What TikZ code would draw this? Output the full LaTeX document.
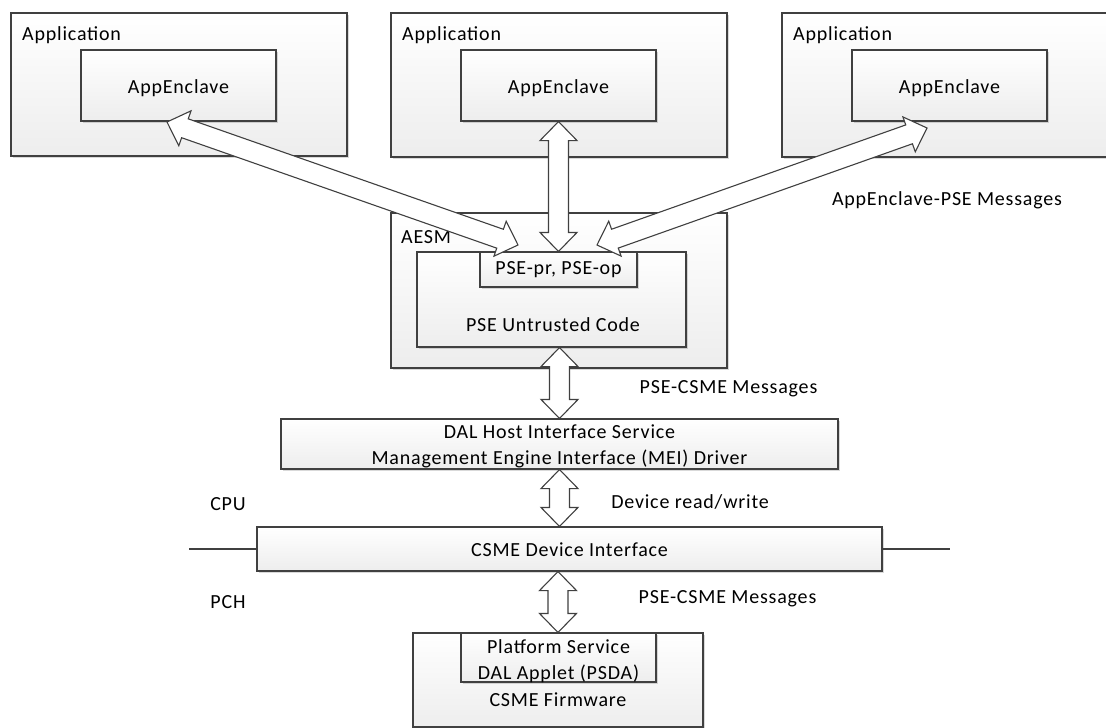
\documentclass[tikz,border=0pt]{standalone}
\usepackage{fontspec}
\setmainfont[LetterSpace=4]{Carlito}
\usetikzlibrary{calc,shadows}
\definecolor{edge}{HTML}{404040}
\newcommand{\dblarrow}[2]{%
  \draw[blockarrow] (#1)
    -- ($(#1)!19pt!(#2)!18.5pt!90:(#2)$)
    -- ($(#1)!19pt!(#2)!10pt!90:(#2)$)
    -- ($(#2)!19pt!(#1)!10pt!-90:(#1)$)
    -- ($(#2)!19pt!(#1)!18.5pt!-90:(#1)$)
    -- (#2)
    -- ($(#2)!19pt!(#1)!18.5pt!90:(#1)$)
    -- ($(#2)!19pt!(#1)!10pt!90:(#1)$)
    -- ($(#1)!19pt!(#2)!10pt!-90:(#2)$)
    -- ($(#1)!19pt!(#2)!18.5pt!-90:(#2)$)
    -- cycle;}
\tikzset{
  box/.style={draw=edge, line width=1.1pt, rectangle, inner sep=0pt,
    top color=white, bottom color=black!7,
    drop shadow={shadow xshift=1.5pt, shadow yshift=-1.5pt, opacity=.15, fill=black}},
  blockarrow/.style={draw=edge, line width=1.1pt, fill=white, line join=miter},
  txt/.style={font=\fontsize{20}{26}\selectfont, text=black, inner sep=0pt, align=center},
  sep/.style={draw=edge, line width=1.1pt}
}
\begin{document}
\begin{tikzpicture}[x=1pt, y=-1pt]
\useasboundingbox (0,0) rectangle (1106,728);
% application boxes
\node[box, minimum width=336pt, minimum height=143pt] (app1) at (179,84.5) {};
\node[box, minimum width=195pt, minimum height=71pt] (enc1) at (178.5,85.5) {};
\node[box, minimum width=336pt, minimum height=144pt] (app2) at (559,85) {};
\node[box, minimum width=195pt, minimum height=71pt] (enc2) at (558.5,85.5) {};
\node[box, minimum width=336pt, minimum height=144pt] (app3) at (950,85) {};
\node[box, minimum width=195pt, minimum height=71pt] (enc3) at (949.5,85.5) {};
\node[txt, anchor=west] (lapp1) at (22,35) {Application};
\node[txt, anchor=west] (lapp2) at (402,35) {Application};
\node[txt, anchor=west] (lapp3) at (793,35) {Application};
\node[txt] (lenc1) at (178.5,88) {AppEnclave};
\node[txt] (lenc2) at (558.5,88) {AppEnclave};
\node[txt] (lenc3) at (949.5,88) {AppEnclave};
% AESM
\node[box, minimum width=336pt, minimum height=155pt] (aesm) at (559,290.5) {};
\node[box, minimum width=269pt, minimum height=95pt] (pseu) at (551.5,299.5) {};
\node[box, minimum width=157pt, minimum height=35pt] (psepr) at (558.5,269.5) {};
\node[txt, anchor=west] (laesm) at (401,237) {AESM};
\node[txt] (lpsepr) at (558.5,270) {PSE-pr, PSE-op};
\node[txt] (lpseu) at (553,325) {PSE Untrusted Code};
% DAL
\node[box, minimum width=557pt, minimum height=50pt] (dal) at (559.5,444) {};
\node[txt] (ldal) at (559.5,446) {DAL Host Interface Service\\Management Engine Interface (MEI) Driver};
% CSME device interface
\coordinate (lineL) at (189,549);
\coordinate (lineR) at (950,549);
\node[box, minimum width=625pt, minimum height=44pt] (csme) at (569.5,549) {};
\draw[sep] (lineL) -- (csme.west);
\draw[sep] (csme.east) -- (lineR);
\node[txt] (lcsme) at (569.5,550) {CSME Device Interface};
% firmware
\node[box, minimum width=290pt, minimum height=94pt] (fw) at (558,680) {};
\node[box, minimum width=195pt, minimum height=49pt] (psda) at (558.5,657.5) {};
\node[txt] (lpsda) at (558.5,661) {Platform Service\\DAL Applet (PSDA)};
\node[txt] (lfw) at (558,700) {CSME Firmware};
% labels
\node[txt] (lmsg1) at (947,200) {AppEnclave-PSE Messages};
\node[txt] (lmsg2) at (728.5,389) {PSE-CSME Messages};
\node[txt] (lrw) at (690,502) {Device read/write};
\node[txt] (lmsg3) at (727.5,599) {PSE-CSME Messages};
\node[txt] (lcpu) at (228,504) {CPU};
\node[txt] (lpch) at (228,602) {PCH};
% arrows
\coordinate (d1a) at (167,122);
\coordinate (d1b) at (518,245);
\coordinate (d3a) at (927,128);
\coordinate (d3b) at (597,245);
\coordinate (v1a) at (dal.north |- pseu.south);
\coordinate (v2b) at (dal.south |- csme.north);
\coordinate (v3a) at (fw.north |- csme.south);
\dblarrow{d1a}{d1b}
\dblarrow{d3a}{d3b}
\dblarrow{enc2.south}{psepr.north}
\dblarrow{v1a}{dal.north}
\dblarrow{dal.south}{v2b}
\dblarrow{v3a}{fw.north}
\end{tikzpicture}
\end{document}
